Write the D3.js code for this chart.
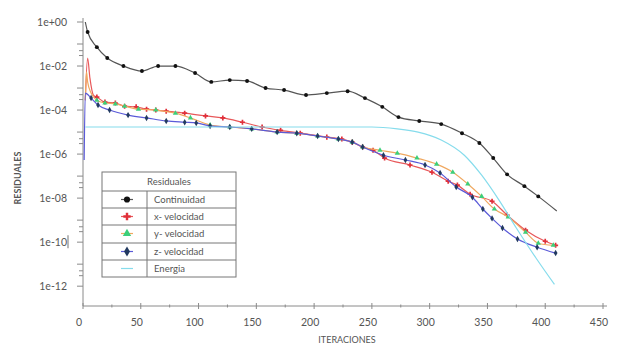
<!DOCTYPE html>
<html lang="es">
<head>
<meta charset="UTF-8">
<title>Residuales</title>
<style>
  body { margin: 0; background: #fff; }
  svg text { font-family: Lato, "Open Sans", sans-serif; fill: #555; }
  .axis path, .axis line { stroke: #8a8a8a; }
</style>
</head>
<body>
<svg width="617" height="352"></svg>
<script src="https://d3js.org/d3.v7.min.js"></script>
<script>
// data (iteration, residual)
const iterCont = [2, 4, 12, 21, 35, 51, 65, 80, 97, 111, 127, 142, 158, 174, 193, 211, 229, 244, 259, 273, 291, 310, 328, 343, 355, 367, 382, 394, 410];
const resCont = [1, 3.5e-1, 7.2e-2, 2.3e-2, 1.0e-2, 5.9e-3, 1.0e-2, 1.0e-2, 4.8e-3, 1.9e-3, 2.3e-3, 2.1e-3, 1.0e-3, 8.1e-4, 4.8e-4, 5.9e-4, 7.2e-4, 3.5e-4, 1.4e-4, 4.8e-5, 3.2e-5, 2.3e-5, 8.9e-6, 3.2e-6, 6.6e-7, 1.2e-7, 3.5e-8, 1.2e-8, 2.6e-9];

const iterX = [2, 4, 6, 9, 12, 19, 28, 36, 46, 55, 63, 72, 88, 106, 121, 138, 155, 171, 188, 211, 224, 233, 242, 251, 261, 283, 302, 316, 324, 335, 354, 367, 383, 400, 409];
const resX = [2.8e-4, 2.3e-2, 2.8e-3, 4.8e-4, 3.9e-4, 2.3e-4, 2.1e-4, 1.5e-4, 1.4e-4, 1.1e-4, 1.0e-4, 8.9e-5, 7.2e-5, 5.4e-5, 4.4e-5, 2.8e-5, 1.7e-5, 1.2e-5, 8.9e-6, 5.9e-6, 4.8e-6, 3.5e-6, 2.1e-6, 1.5e-6, 6.6e-7, 3.2e-7, 1.5e-7, 5.9e-8, 3.9e-8, 1.5e-8, 7.2e-9, 1.7e-9, 3.5e-10, 1.1e-10, 7.2e-11];

const iterY = [2, 3, 4, 7, 12, 19, 28, 36, 48, 63, 80, 93, 110, 127, 146, 168, 185, 203, 221, 233, 242, 257, 272, 289, 306, 320, 333, 345, 356, 368, 383, 394, 407];
const resY = [2.8e-4, 5.4e-3, 1.9e-3, 5.9e-4, 2.8e-4, 2.1e-4, 1.9e-4, 1.5e-4, 1.1e-4, 1.0e-4, 7.2e-5, 4.4e-5, 2.1e-5, 1.7e-5, 1.4e-5, 1.0e-5, 8.9e-6, 6.6e-6, 4.8e-6, 3.5e-6, 2.1e-6, 1.5e-6, 1.1e-6, 6.6e-7, 3.5e-7, 1.5e-7, 4.4e-8, 1.2e-8, 3.2e-9, 1.4e-9, 2.8e-10, 8.9e-11, 7.2e-11];

const iterZ = [1, 2, 7, 13, 23, 39, 55, 72, 88, 98, 110, 127, 146, 168, 185, 203, 221, 233, 242, 260, 279, 296, 309, 323, 337, 346, 354, 363, 376, 393, 409];
const resZ = [5.4e-7, 5.9e-4, 3.5e-4, 1.7e-4, 1.0e-4, 5.9e-5, 4.4e-5, 3.2e-5, 2.8e-5, 2.6e-5, 1.9e-5, 1.7e-5, 1.4e-5, 1.0e-5, 8.9e-6, 6.6e-6, 4.8e-6, 3.5e-6, 2.1e-6, 8.9e-7, 5.4e-7, 3.2e-7, 1.4e-7, 3.2e-8, 1.1e-8, 3.2e-9, 1.2e-9, 4.4e-10, 1.4e-10, 5.9e-11, 3.2e-11];

const iterE = [2, 50, 100, 150, 200, 250, 272, 290, 310, 330, 345, 360, 375, 392, 408];
const resE = [1.7e-5, 1.7e-5, 1.7e-5, 1.7e-5, 1.7e-5, 1.7e-5, 1.4e-5, 1.0e-5, 4.4e-6, 8.9e-7, 1.1e-7, 8.1e-9, 4.4e-10, 1.9e-11, 1.2e-12];

const xTicks = [0, 50, 100, 150, 200, 250, 300, 350, 400, 450];
const yTickLabels = ["1e+00", "1e-02", "1e-04", "1e-06", "1e-08", "1e-10", "1e-12"];

const series = [
  { name: "Continuidad", it: iterCont, res: resCont, color: "#555", mark: "#111", sym: d3.symbolCircle, from: 1 },
  { name: "x- velocidad", it: iterX, res: resX, color: "#e8585a", mark: "#e0303a", sym: d3.symbolCross, from: 4 },
  { name: "y- velocidad", it: iterY, res: resY, color: "#f0a860", mark: "#3ccf7a", sym: d3.symbolTriangle, from: 4 },
  { name: "z- velocidad", it: iterZ, res: resZ, color: "#5a5ad8", mark: "#223a60", sym: d3.symbolDiamond, from: 2 },
  { name: "Energia", it: iterE, res: resE, color: "#86dcec", mark: null, sym: null, from: 0 }
];

const svg = d3.select("svg");
const x = d3.scaleLinear().domain([0, 450]).range([83, 603]);
const y = d3.scaleLog().domain([Math.pow(10, -12.9), 1]).range([306, 22]);

// x axis
const xAxis = svg.append("g").attr("class", "axis").attr("transform", "translate(0,306)");
xAxis.append("line").attr("x1", 83).attr("x2", 607).attr("stroke", "#8a8a8a");
xAxis.selectAll(".maj").data(xTicks).enter().append("line")
  .attr("x1", d => x(d)).attr("x2", d => x(d)).attr("y1", -3).attr("y2", 3).attr("stroke", "#8a8a8a");
xAxis.selectAll(".min").data(d3.range(25, 450, 50)).enter().append("line")
  .attr("x1", d => x(d)).attr("x2", d => x(d)).attr("y1", -1.5).attr("y2", 1.5).attr("stroke", "#999");
xAxis.selectAll("text").data(xTicks).enter().append("text")
  .attr("x", d => x(d) - 4).attr("y", 20).attr("text-anchor", "middle")
  .attr("font-size", 10.5).text(d => d);

// y axis
const yAxis = svg.append("g").attr("class", "axis");
yAxis.append("line").attr("x1", 83).attr("x2", 83).attr("y1", 18).attr("y2", 306).attr("stroke", "#8a8a8a");
yAxis.selectAll(".maj").data(yTickLabels).enter().append("line")
  .attr("x1", 77).attr("x2", 83).attr("y1", d => y(+d)).attr("y2", d => y(+d)).attr("stroke", "#8a8a8a");
const minorY = [];
[-1, -3, -5, -7, -9, -11].forEach(p => [1, 0.5, 0.3].forEach(k => minorY.push(k * Math.pow(10, p))));
yAxis.selectAll(".min").data(minorY).enter().append("line")
  .attr("x1", (d, i) => i % 3 === 0 ? 77 : 79).attr("x2", 83)
  .attr("y1", d => y(d)).attr("y2", d => y(d)).attr("stroke", "#999");
yAxis.selectAll("text").data(yTickLabels).enter().append("text")
  .attr("x", 67).attr("y", d => y(+d) + 4).attr("text-anchor", "end")
  .attr("font-size", 10.5).text(d => d);
yAxis.append("line").attr("x1", 68).attr("x2", 68).attr("y1", y(1e-10) - 7).attr("y2", y(1e-10) + 6)
  .attr("stroke", "#444").attr("stroke-width", 1.2);

// titles
svg.append("text").attr("x", 347).attr("y", 343).attr("text-anchor", "middle")
  .attr("font-size", 9).text("ITERACIONES");
svg.append("text").attr("transform", "translate(21,178) rotate(-90)").attr("text-anchor", "middle")
  .attr("font-size", 9).attr("font-weight", "bold").text("RESIDUALES");

// lines and markers
const line = d3.line().x(d => x(d[0])).y(d => y(d[1])).curve(d3.curveMonotoneX);
series.forEach(s => {
  const pts = s.it.map((v, i) => [v, s.res[i]]);
  svg.append("path").datum(pts).attr("d", line)
    .attr("fill", "none").attr("stroke", s.color).attr("stroke-width", 1.2);
  if (s.sym) {
    svg.selectAll(null).data(pts.slice(s.from, s.name === "Continuidad" ? -1 : undefined)).enter().append("path")
      .attr("transform", d => `translate(${x(d[0])},${y(d[1])})`)
      .attr("d", d3.symbol().type(s.sym).size(s.sym === d3.symbolCross ? 14 : 12))
      .attr("fill", s.mark);
  }
});

// legend
const lg = svg.append("g").attr("transform", "translate(102,172)");
const lw = 134, rowH = [19, 17, 17, 18, 17, 17];
lg.append("rect").attr("width", lw).attr("height", 105).attr("fill", "#fff").attr("stroke", "#777");
lg.append("text").attr("x", lw / 2).attr("y", 13).attr("text-anchor", "middle").attr("font-size", 9.5).text("Residuales");
let yy = 19;
series.forEach((s, i) => {
  lg.append("line").attr("x1", 0).attr("x2", lw).attr("y1", yy).attr("y2", yy).attr("stroke", "#777");
  const cy = yy + 8.5;
  lg.append("line").attr("x1", 19).attr("x2", 31).attr("y1", cy).attr("y2", cy)
    .attr("stroke", s.color).attr("stroke-width", 1.2);
  if (s.sym) {
    lg.append("path").attr("transform", `translate(25,${cy})`)
      .attr("d", d3.symbol().type(s.sym).size(30)).attr("fill", s.mark);
  }
  lg.append("text").attr("x", 52).attr("y", cy + 3.5).attr("font-size", 9.5).text(s.name);
  yy += rowH[i + 1];
});
lg.append("line").attr("x1", 45).attr("x2", 45).attr("y1", 19).attr("y2", 105).attr("stroke", "#777");
</script>
</body>
</html>
